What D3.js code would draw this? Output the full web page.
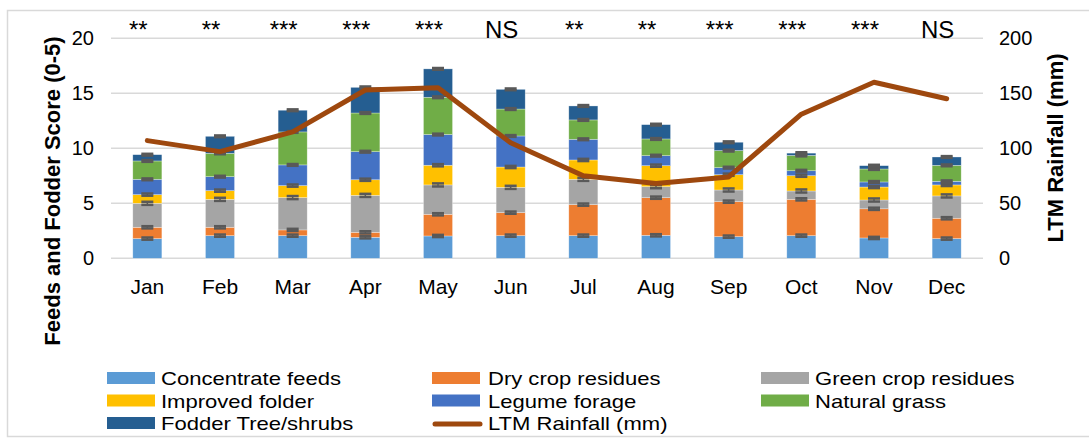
<!DOCTYPE html>
<html>
<head>
<meta charset="utf-8">
<script src="https://cdn.jsdelivr.net/npm/d3@7"></script>
<style>
	body { margin: 0; background: #fff; }
	svg text { font-family: "Liberation Sans", Arial, sans-serif; fill: #000; }
	.grid line { stroke: #d9d9d9; stroke-width: 1.5; }
	.err line { stroke: #595959; }
</style>
</head>
<body>
<div id="chart"></div>
<script>
// categories
var months = ['Jan', 'Feb', 'Mar', 'Apr', 'May', 'Jun', 'Jul', 'Aug', 'Sep', 'Oct', 'Nov', 'Dec'];

// feed scores (0-5) per month
var concentrateFeeds  = [1.79, 2.06, 2.06, 1.91, 2.03, 2.06, 2.06, 2.09, 1.97, 2.06, 1.85, 1.79];
var dryCropResidues   = [1.03, 0.76, 0.52, 0.45, 1.97, 2.09, 2.82, 3.42, 3.18, 3.30, 2.65, 1.85];
var greenCropResidues = [2.18, 2.54, 2.94, 3.36, 2.67, 2.30, 2.30, 1.00, 1.06, 0.76, 0.80, 2.03];
var improvedFolder    = [0.79, 0.79, 1.09, 1.42, 1.79, 1.85, 1.76, 1.91, 1.39, 1.39, 1.18, 1.00];
var legumeForage      = [1.39, 1.27, 1.88, 2.55, 2.79, 2.82, 1.88, 0.91, 0.64, 0.45, 0.46, 0.33];
var naturalGrass      = [1.67, 2.12, 3.00, 3.52, 3.39, 2.45, 1.76, 1.52, 1.55, 1.39, 1.18, 1.45];
var fodderTrees       = [0.57, 1.55, 1.97, 2.33, 2.58, 1.79, 1.27, 1.30, 0.76, 0.21, 0.30, 0.76];

// standard error per series (approx.)
var seriesError = [0.10, 0.10, 0.14, 0.10, 0.08, 0.08, 0.08];

// long term mean rainfall (mm)
var ltmRainfall = [107, 97, 115, 153, 155, 105, 75, 68, 74, 131, 160, 145];

// significance per month
var significance = ['**', '**', '***', '***', '***', 'NS', '**', '**', '***', '***', '***', 'NS'];

var seriesNames  = ['Concentrate feeds', 'Dry crop residues', 'Green crop residues', 'Improved folder',
	'Legume forage', 'Natural grass', 'Fodder Tree/shrubs'];
var seriesColors = ['#5b9bd5', '#ed7d31', '#a5a5a5', '#ffc000', '#4472c4', '#70ad47', '#255e91'];
var lineName  = 'LTM Rainfall (mm)';
var lineColor = '#9e480e';

var leftTicks  = [0, 5, 10, 15, 20];
var rightTicks = [0, 50, 100, 150, 200];

var width = 1089, height = 440;
var plot = {left: 111, right: 983, top: 38.3, bottom: 258.3};

var svg = d3.select('#chart').append('svg')
	.attr('width', width)
	.attr('height', height);

// chart border
svg.append('rect')
	.attr('x', 7.5).attr('y', 10.5)
	.attr('width', width).attr('height', 426)
	.attr('fill', 'none')
	.attr('stroke', '#d9d9d9')
	.attr('stroke-width', 1.5);

var xScale = d3.scaleBand()
	.domain(months)
	.range([plot.left, plot.right])
	.paddingInner(0.6)
	.paddingOuter(0.3);

var yLeft = d3.scaleLinear().domain([0, 20]).range([plot.bottom, plot.top]);
var yRight = d3.scaleLinear().domain([0, 200]).range([plot.bottom, plot.top]);

// gridlines
svg.append('g').attr('class', 'grid')
	.selectAll('line')
	.data(leftTicks)
	.enter().append('line')
	.attr('x1', plot.left).attr('x2', plot.right)
	.attr('y1', function(d) { return yLeft(d); })
	.attr('y2', function(d) { return yLeft(d); });

// left axis
var leftAxis = d3.axisLeft(yLeft).tickValues(leftTicks).tickSize(0).tickPadding(0);
var gl = svg.append('g')
	.attr('transform', 'translate(94,0)')
	.call(leftAxis);
gl.select('.domain').remove();
gl.selectAll('text').style('font-size', '20px');

// right axis
var rightAxis = d3.axisRight(yRight).tickValues(rightTicks).tickSize(0).tickPadding(0);
var gr = svg.append('g')
	.attr('transform', 'translate(999,0)')
	.call(rightAxis);
gr.select('.domain').remove();
gr.selectAll('text').style('font-size', '20px');

// month labels
var bottomAxis = d3.axisBottom(xScale).tickSize(0).tickPadding(0);
var gb = svg.append('g')
	.attr('transform', 'translate(0,' + (plot.bottom + 21) + ')')
	.call(bottomAxis);
gb.select('.domain').remove();
gb.selectAll('text').style('font-size', '21px');

// axis titles
svg.append('text')
	.attr('transform', 'translate(52,191) rotate(-90)')
	.attr('text-anchor', 'middle')
	.attr('dy', '0.35em')
	.style('font-size', '22px')
	.style('font-weight', 'bold')
	.text('Feeds and Fodder Score (0-5)');

svg.append('text')
	.attr('transform', 'translate(1055,148) rotate(-90)')
	.attr('text-anchor', 'middle')
	.attr('dy', '0.35em')
	.style('font-size', '22px')
	.style('font-weight', 'bold')
	.text('LTM Rainfall (mm)');

// stacked bars
var seriesData = [concentrateFeeds, dryCropResidues, greenCropResidues, improvedFolder,
	legumeForage, naturalGrass, fodderTrees];
var rows = months.map(function(m, i) {
	var row = {month: m};
	seriesNames.forEach(function(s, j) { row[s] = seriesData[j][i]; });
	return row;
});
var stacked = d3.stack().keys(seriesNames)(rows);

var layers = svg.append('g').attr('class', 'bars')
	.selectAll('g')
	.data(stacked)
	.enter().append('g')
	.attr('fill', function(d, i) { return seriesColors[i]; });

layers.selectAll('rect')
	.data(function(d) { return d; })
	.enter().append('rect')
	.attr('x', function(d) { return xScale(d.data.month); })
	.attr('y', function(d) { return yLeft(d[1]); })
	.attr('width', xScale.bandwidth())
	.attr('height', function(d) { return yLeft(d[0]) - yLeft(d[1]); })
	.attr('stroke', '#ffffff')
	.attr('stroke-opacity', 0.5)
	.attr('stroke-width', 0.6);

// error bars at each segment top
var cap = 6;
var errs = svg.append('g').attr('class', 'err')
	.selectAll('g')
	.data(stacked)
	.enter().append('g')
	.selectAll('g')
	.data(function(d, i) { return d.map(function(p) { return {p: p, e: seriesError[i]}; }); })
	.enter().append('g')
	.attr('transform', function(d) {
		return 'translate(' + (xScale(d.p.data.month) + xScale.bandwidth() / 2) + ',0)';
	});
errs.append('line')
	.attr('y1', function(d) { return yLeft(d.p[1] - d.e); })
	.attr('y2', function(d) { return yLeft(d.p[1] + d.e); })
	.attr('stroke-width', 1.5);
errs.append('line')
	.attr('x1', -cap).attr('x2', cap)
	.attr('y1', function(d) { return yLeft(d.p[1] + d.e); })
	.attr('y2', function(d) { return yLeft(d.p[1] + d.e); })
	.attr('stroke-width', 2.5);
errs.append('line')
	.attr('x1', -cap).attr('x2', cap)
	.attr('y1', function(d) { return yLeft(d.p[1] - d.e); })
	.attr('y2', function(d) { return yLeft(d.p[1] - d.e); })
	.attr('stroke-width', 2.5);

// rainfall line
var line = d3.line()
	.x(function(d, i) { return xScale(months[i]) + xScale.bandwidth() / 2; })
	.y(function(d) { return yRight(d); });

svg.append('path')
	.attr('d', line(ltmRainfall))
	.attr('fill', 'none')
	.attr('stroke', lineColor)
	.attr('stroke-width', 5)
	.attr('stroke-linejoin', 'round')
	.attr('stroke-linecap', 'round');

// significance labels
svg.append('g')
	.selectAll('text')
	.data(significance)
	.enter().append('text')
	.attr('x', function(d, i) { return xScale(months[i]) + xScale.bandwidth() / 2 - 9; })
	.attr('y', 38)
	.attr('text-anchor', 'middle')
	.style('font-size', '24px')
	.text(function(d) { return d; });

// legend
var legendItems = seriesNames.concat([lineName]);
var colX = [107, 432, 761];
var legend = svg.append('g')
	.selectAll('g')
	.data(legendItems)
	.enter().append('g')
	.attr('transform', function(d, i) {
		return 'translate(' + colX[i % 3] + ',' + (372 + Math.floor(i / 3) * 22.5) + ')';
	});

legend.each(function(d, i) {
	var g = d3.select(this);
	if (i < seriesNames.length) {
		g.append('rect')
			.attr('width', 48).attr('height', 12)
			.attr('fill', seriesColors[i]);
	} else {
		g.append('line')
			.attr('x1', 3).attr('x2', 48)
			.attr('y1', 7).attr('y2', 7)
			.attr('stroke', lineColor)
			.attr('stroke-width', 5)
			.attr('stroke-linecap', 'round');
	}
	// text in the picture is a bit wide for its height, so stretch it
	g.append('text')
		.attr('transform', 'translate(' + (i % 3 == 1 ? 56 : 54) + ',13) scale(1.16,1)')
		.style('font-size', '19px')
		.text(d);
});
</script>
</body>
</html>
